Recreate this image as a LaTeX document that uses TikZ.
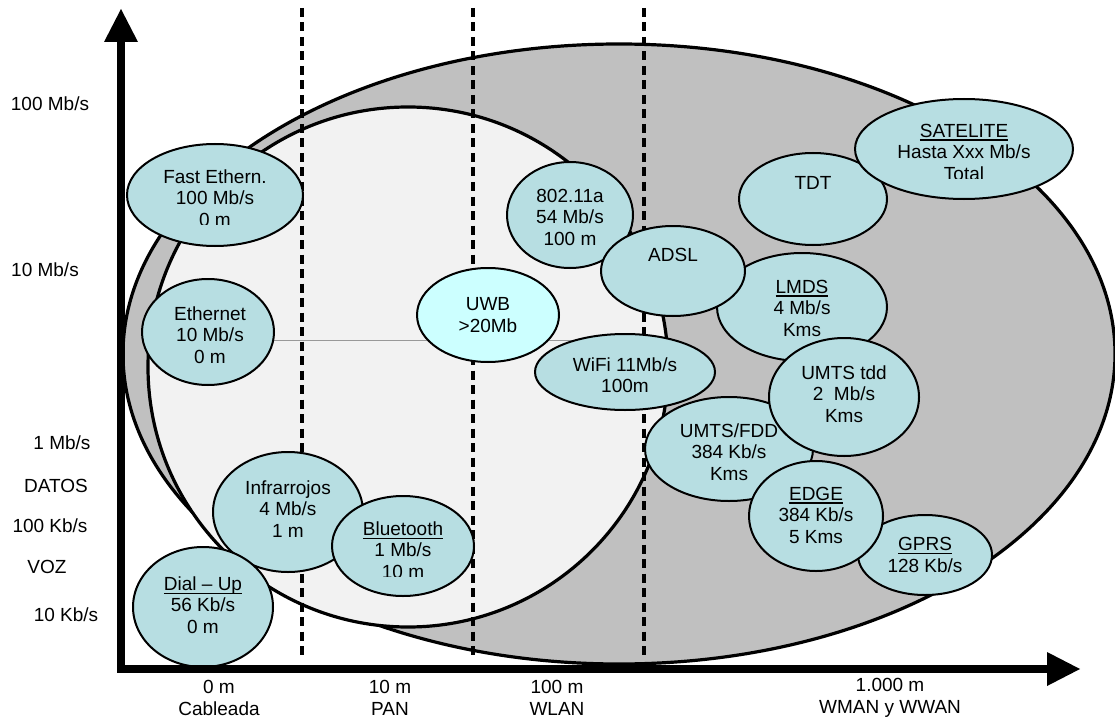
\documentclass[tikz,border=0pt]{standalone}
\usepackage{fontspec}
\setmainfont{Liberation Sans}
\usetikzlibrary{shapes.geometric,arrows.meta}
\definecolor{bubfill}{RGB}{183,222,226}
\definecolor{uwbfill}{RGB}{204,255,255}
\definecolor{outergray}{RGB}{192,192,192}
\definecolor{innergray}{RGB}{242,242,242}
\newcommand{\ulx}[1]{\leavevmode\setbox0\hbox{#1}\rlap{\rule[-3.6pt]{\wd0}{1.3pt}}\box0}
\tikzset{
  bub/.style={ellipse, draw=black, line width=2pt, fill=bubfill, inner sep=0pt},
  txt/.style={align=center, inner sep=0pt, text=black},
  sepline/.style={line width=3.2pt, dash pattern=on 9pt off 5.5pt},
  axisline/.style={line width=8pt, line join=miter,
     {Triangle[length=33pt,width=34pt,line width=0pt]}-{Triangle[length=33pt,width=34pt,line width=0pt]}},
  biglbl/.style={inner sep=0pt, align=center}
}
\begin{document}
\begin{tikzpicture}[x=1pt,y=-1pt,font=\fontsize{19}{21.5}\selectfont]
\useasboundingbox (0,0) rectangle (1115,722);
\fill[white] (0,0) rectangle (1115,722);

% large ellipses
\draw[line width=3.2pt, fill=outergray] (619,354) ellipse [x radius=496, y radius=310];
\draw[line width=3.2pt, fill=innergray] (408,367) ellipse [x radius=260, y radius=260];

% thin guide line
\coordinate (lnA) at (272,340);
\coordinate (lnB) at (665,340);
\draw[line width=1pt, black!40] (lnA) -- (lnB);

% dashed separators
\coordinate (s1t) at (302,8);  \coordinate (s1b) at (302,655);
\coordinate (s2t) at (473,8);  \coordinate (s2b) at (473,655);
\coordinate (s3t) at (644,8);  \coordinate (s3b) at (644,655);
\draw[sepline] (s1t) -- (s1b);
\draw[sepline] (s2t) -- (s2b);
\draw[sepline] (s3t) -- (s3b);

% bubbles
\node[bub, minimum width=176pt, minimum height=102pt] (fe) at (215,195) {};
\node[bub, minimum width=132pt, minimum height=106pt] (eth) at (208,332) {};
\node[bub, minimum width=150pt, minimum height=120pt] (infra) at (288,512) {};
\node[bub, minimum width=140pt, minimum height=120pt] (dial) at (203,607) {};
\node[bub, minimum width=142pt, minimum height=100pt] (bt) at (403,546) {};
\node[bub, fill=uwbfill, minimum width=142pt, minimum height=94pt] (uwb) at (488,315) {};
\node[bub, minimum width=170pt, minimum height=108pt] (lmds) at (802,307) {};
\node[bub, minimum width=168pt, minimum height=104pt] (fdd) at (729,449) {};
\node[bub, minimum width=180pt, minimum height=76pt] (wifi) at (625,372) {};
\node[bub, minimum width=126pt, minimum height=106pt] (a80211) at (570,215) {};
\node[bub, minimum width=144pt, minimum height=90pt] (adsl) at (673,271) {};
\node[bub, minimum width=148pt, minimum height=92pt] (tdt) at (813,199) {};
\node[bub, minimum width=218pt, minimum height=100pt] (sat) at (964,149) {};
\node[bub, minimum width=150pt, minimum height=118pt] (tdd) at (844,397) {};
\node[bub, minimum width=134pt, minimum height=80pt] (gprs) at (925,555) {};
\node[bub, minimum width=134pt, minimum height=110pt] (edge) at (816,516) {};

% bubble texts
\begin{scope}
  \clip (100,100) rectangle (330,224.5);
  \node[txt] (fe-t) at (215,198) {Fast Ethern.\\100 Mb/s\\0 m};
\end{scope}
\node[txt] (eth-t) at (210,335) {Ethernet\\10 Mb/s\\0 m};
\node[txt] (infra-t) at (288,509) {Infrarrojos\\4 Mb/s\\1 m};
\node[txt] (dial-t) at (203,605) {\ulx{Dial – Up}\\56 Kb/s\\0 m};
\begin{scope}
  \clip (320,480) rectangle (490,576);
  \node[txt] (bt-t) at (403,550) {\ulx{Bluetooth}\\1 Mb/s\\10 m};
\end{scope}
\node[txt] (uwb-t) at (488,315) {UWB\\>20Mb};
\node[txt] (lmds-t) at (802,308) {\ulx{LMDS}\\4 Mb/s\\Kms};
\node[txt] (fdd-t) at (729,452) {UMTS/FDD\\384 Kb/s\\Kms};
\node[txt] (wifi-t) at (625,375) {WiFi 11Mb/s\\100m};
\node[txt] (a80211-t) at (570,217) {802.11a\\54 Mb/s\\100 m};
\node[txt] (adsl-t) at (673,255) {ADSL};
\node[txt] (tdt-t) at (813,183) {TDT};
\begin{scope}
  \clip (850,90) rectangle (1080,178.5);
  \node[txt] (sat-t) at (964,152) {\ulx{SATELITE}\\Hasta Xxx Mb/s\\Total};
\end{scope}
\node[txt] (tdd-t) at (844,394) {UMTS tdd\\2~~Mb/s\\Kms};
\node[txt] (gprs-t) at (925,555) {\ulx{GPRS}\\128 Kb/s};
\node[txt] (edge-t) at (816,515) {\ulx{EDGE}\\384 Kb/s\\5 Kms};

% axes
\coordinate (ytip) at (121,9);
\coordinate (orig) at (121,669);
\coordinate (xtip) at (1080,669);
\draw[axisline] (ytip) -- (orig) -- (xtip);

% y labels
\node[biglbl] (y1) at (50,104) {100 Mb/s};
\node[biglbl] (y2) at (45,270) {10 Mb/s};
\node[biglbl] (y3) at (62,443) {1 Mb/s};
\node[biglbl] (y4) at (56,486) {DATOS};
\node[biglbl] (y5) at (50,526) {100 Kb/s};
\node[biglbl] (y6) at (47,567) {VOZ};
\node[biglbl] (y7) at (66,615) {10 Kb/s};

% x labels
\node[biglbl] (x1) at (219,698) {0 m\\Cableada};
\node[biglbl] (x2) at (390,698) {10 m\\PAN};
\node[biglbl] (x3) at (557,698) {100 m\\WLAN};
\node[biglbl] (x4) at (890,698) {1.000 m\\WMAN y WWAN};
\end{tikzpicture}
\end{document}
